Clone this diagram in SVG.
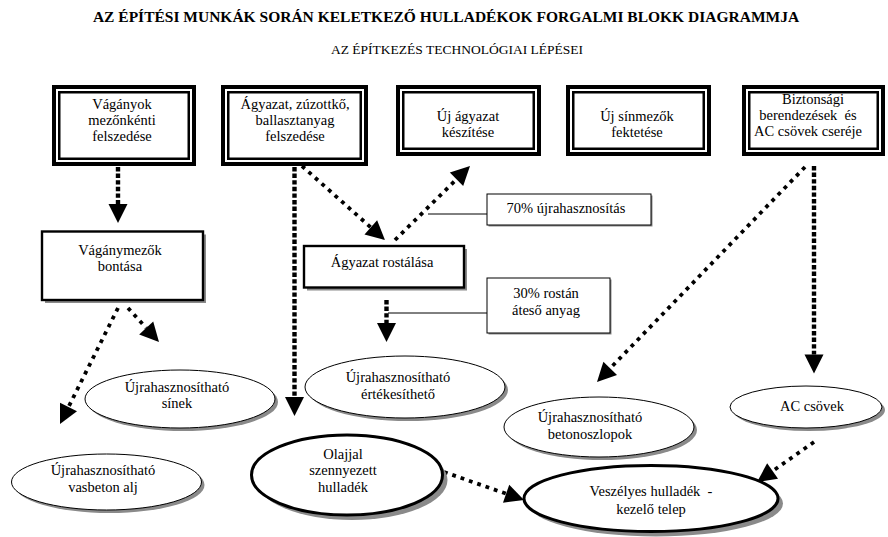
<svg xmlns="http://www.w3.org/2000/svg" width="888" height="537" viewBox="0 0 888 537">
<style>
text{font-family:"Liberation Serif","Times New Roman",serif;fill:#000;}
.t{font-size:14.5px;text-anchor:middle;}
.title{font-size:15.5px;font-weight:bold;text-anchor:middle;}
.sub{font-size:13.5px;text-anchor:middle;}
.o{fill:#fff;stroke:#000;stroke-width:4;}
.i{fill:none;stroke:#000;stroke-width:2.5;}
.bx{fill:#fff;stroke:#000;stroke-width:2.4;}
.thin{fill:#fff;stroke:#000;stroke-width:1;}
.sh{fill:#8a8a8a;stroke:none;}
.el{fill:#fff;stroke:#000;stroke-width:1;}
.elk{fill:#fff;stroke:#000;stroke-width:3;}
.dv{fill:none;stroke:#000;stroke-width:4.4;stroke-dasharray:4.4 2.2;}
.dd{fill:none;stroke:#000;stroke-width:3.8;stroke-dasharray:3.8 5;}
.ln{fill:none;stroke:#000;stroke-width:1;}
</style>
<defs>
<marker id="ah" markerUnits="userSpaceOnUse" markerWidth="20" markerHeight="20" refX="0" refY="9.5" orient="auto" overflow="visible">
<path d="M0,0 L19,9.5 L0,19 z" fill="#000"/>
</marker>
</defs>

<text class="title" x="446" y="22">AZ ÉPÍTÉSI MUNKÁK SORÁN KELETKEZŐ HULLADÉKOK FORGALMI BLOKK DIAGRAMMJA</text>
<text class="sub" x="457" y="54">AZ ÉPÍTKEZÉS TECHNOLÓGIAI LÉPÉSEI</text>

<g id="connectors">
<line class="ln" x1="428" y1="214" x2="487" y2="214"/>
<line class="ln" x1="388" y1="313" x2="487" y2="313"/>
<path class="dv" d="M118,167 L118,204" marker-end="url(#ah)"/>
<path class="dv" d="M294.5,167 L294.5,397" marker-end="url(#ah)"/>
<path class="dd" d="M302,166 L370.8,227.4" marker-end="url(#ah)"/>
<path class="dd" d="M395,240 L456.5,179.3" marker-end="url(#ah)"/>
<path class="dv" d="M386.5,300 L386.5,323" marker-end="url(#ah)"/>
<path class="dd" d="M128,308 L146.2,328" marker-end="url(#ah)"/>
<path class="dd" d="M118,308 L68.5,407" marker-end="url(#ah)"/>
<path class="dd" d="M805,167 L610.2,368.3" marker-end="url(#ah)"/>
<path class="dv" d="M814,166 L814,354.5" marker-end="url(#ah)"/>
<path class="dd" d="M814,442 L772.6,471.1" marker-end="url(#ah)"/>
<path class="dd" d="M444,472 L506.1,493.7" marker-end="url(#ah)"/>
</g>

<g id="n1">
<rect class="o" x="54" y="87" width="140" height="77"/>
<rect class="i" x="59.25" y="92.25" width="129.5" height="66.5"/>
<text class="t" x="122" y="108.5">Vágányok</text>
<text class="t" x="122" y="124.5">mezőnkénti</text>
<text class="t" x="122" y="140.5">felszedése</text>
</g>
<g id="n2">
<rect class="o" x="223" y="87" width="143" height="77"/>
<rect class="i" x="228.25" y="92.25" width="132.5" height="66.5"/>
<text class="t" x="295" y="108.5">Ágyazat, zúzottkő,</text>
<text class="t" x="295" y="124.5">ballasztanyag</text>
<text class="t" x="295" y="140.5">felszedése</text>
</g>
<g id="n3">
<rect class="o" x="398" y="87" width="141" height="67"/>
<rect class="i" x="403.25" y="92.25" width="130.5" height="56.5"/>
<text class="t" x="468" y="121">Új ágyazat</text>
<text class="t" x="468" y="137">készítése</text>
</g>
<g id="n4">
<rect class="o" x="568" y="87" width="141" height="67"/>
<rect class="i" x="573.25" y="92.25" width="130.5" height="56.5"/>
<text class="t" x="637" y="121">Új sínmezők</text>
<text class="t" x="637" y="137">fektetése</text>
</g>
<g id="n5">
<rect class="o" x="744" y="87" width="139" height="67"/>
<rect class="i" x="749.25" y="92.25" width="128.5" height="56.5"/>
<text class="t" x="813" y="103.5">Biztonsági</text>
<text class="t" x="808" y="119.5" xml:space="preserve">berendezések  és</text>
<text class="t" x="808" y="135.5">AC csövek cseréje</text>
</g>

<g id="n6">
<rect class="sh" x="45" y="234.5" width="161" height="68.5"/>
<rect class="bx" x="42" y="231.5" width="161" height="68.5"/>
<text class="t" x="120" y="255">Vágánymezők</text>
<text class="t" x="120" y="271">bontása</text>
</g>
<g id="n7">
<rect class="sh" x="307" y="249" width="160" height="41.5"/>
<rect class="bx" x="304" y="246" width="160" height="41.5"/>
<text class="t" x="382" y="266.5">Ágyazat rostálása</text>
</g>
<g id="n8">
<rect class="sh" x="488.5" y="195.5" width="164" height="31"/>
<rect class="thin" x="487" y="194" width="164" height="31"/>
<text class="t" x="566" y="213">70% újrahasznosítás</text>
</g>
<g id="n9">
<rect class="sh" x="488.5" y="279.5" width="123" height="55"/>
<rect class="thin" x="487" y="278" width="123" height="55"/>
<text class="t" x="546" y="298">30% rostán</text>
<text class="t" x="546" y="315">áteső anyag</text>
</g>

<g id="n10">
<ellipse class="sh" cx="183" cy="402" rx="95" ry="29"/>
<ellipse class="el" cx="180" cy="399" rx="95" ry="29"/>
<text class="t" x="177" y="391.5">Újrahasznosítható</text>
<text class="t" x="177" y="407.5">sínek</text>
</g>
<g id="n11">
<ellipse class="sh" cx="109.5" cy="485" rx="95" ry="28"/>
<ellipse class="el" cx="106.5" cy="482" rx="95" ry="28"/>
<text class="t" x="103" y="475">Újrahasznosítható</text>
<text class="t" x="103" y="492">vasbeton alj</text>
</g>
<g id="n12">
<ellipse class="sh" cx="408" cy="390" rx="100" ry="31"/>
<ellipse class="el" cx="405" cy="387" rx="100" ry="31"/>
<text class="t" x="398" y="382">Újrahasznosítható</text>
<text class="t" x="398" y="398.5">értékesíthető</text>
</g>
<g id="n13">
<ellipse class="sh" cx="352" cy="480" rx="95.5" ry="40"/>
<ellipse class="elk" cx="347" cy="475" rx="95.5" ry="40"/>
<text class="t" x="343" y="458.5">Olajjal</text>
<text class="t" x="343" y="475">szennyezett</text>
<text class="t" x="343" y="492">hulladék</text>
</g>
<g id="n14">
<ellipse class="sh" cx="602" cy="430" rx="95" ry="30"/>
<ellipse class="el" cx="599" cy="427" rx="95" ry="30"/>
<text class="t" x="590" y="422">Újrahasznosítható</text>
<text class="t" x="590" y="438.5">betonoszlopok</text>
</g>
<g id="n15">
<ellipse class="sh" cx="809" cy="410" rx="76" ry="21"/>
<ellipse class="el" cx="806" cy="407" rx="76" ry="21"/>
<text class="t" x="812" y="410.5">AC csövek</text>
</g>
<g id="n16">
<ellipse class="sh" cx="656" cy="503.5" rx="127" ry="33"/>
<ellipse class="elk" cx="651" cy="498.5" rx="127" ry="33"/>
<text class="t" x="651" y="495.5" xml:space="preserve">Veszélyes hulladék  -</text>
<text class="t" x="651" y="513.5">kezelő telep</text>
</g>
</svg>
